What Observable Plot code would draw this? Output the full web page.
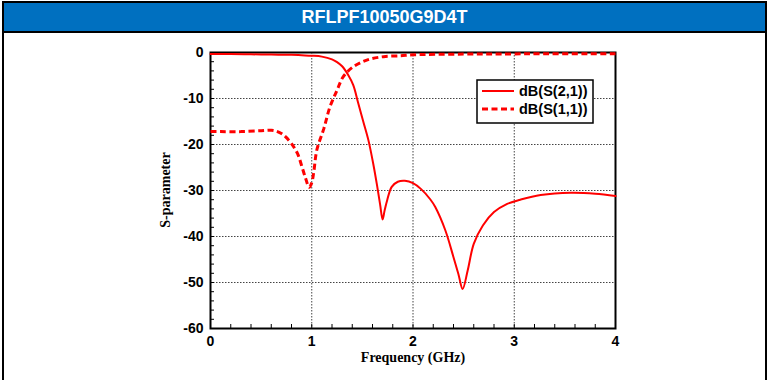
<!DOCTYPE html>
<html><head><meta charset="utf-8">
<script src="https://cdn.jsdelivr.net/npm/d3@7"></script>
<script src="https://cdn.jsdelivr.net/npm/@observablehq/plot@0.6"></script>
<style>
body{margin:0;background:#fff;}
#wrap{position:relative;width:771px;height:380px;overflow:hidden;background:#fff;font-family:"Liberation Sans",Arial,sans-serif;}
#chart{position:absolute;left:0;top:0;}
#chart svg{display:block;}
.bl{position:absolute;background:#000;}
#hdr{position:absolute;left:4px;top:3px;width:761px;height:28px;background:#0070C0;color:#fff;font-weight:bold;font-size:18px;line-height:29px;text-align:center;}
.ttl{position:absolute;font-family:"Liberation Serif","Times New Roman",serif;font-weight:bold;font-size:14px;color:#000;white-space:nowrap;}
#wrap > #legend{position:absolute;left:476px;top:79px;}
</style>
</head><body>
<div id="wrap">
  <div id="chart"></div>
  <div class="bl" style="left:2px;top:1px;width:765px;height:2px;"></div>
  <div id="hdr">RFLPF10050G9D4T</div>
  <div class="bl" style="left:2px;top:31px;width:765px;height:2px;"></div>
  <div class="bl" style="left:2px;top:1px;width:2px;height:379px;"></div>
  <div class="bl" style="left:765px;top:1px;width:2px;height:379px;"></div>
  <div class="ttl" id="ytitle" style="left:166px;top:190px;transform:translate(-50%,-50%) rotate(-90deg);">S-parameter</div>
  <div class="ttl" id="xtitle" style="left:413px;top:350px;transform:translateX(-50%);">Frequency (GHz)</div>
  <svg id="legend" width="120" height="47"></svg>
</div>
<script>
// ---- data ----
const title = "RFLPF10050G9D4T";
const seriesNames = ["dB(S(2,1))", "dB(S(1,1))"];
const xTicks = [0, 1, 2, 3, 4];
const yTicks = [0, -10, -20, -30, -40, -50, -60];

const freqS21 = [0, 0.2, 0.4, 0.6, 0.8, 0.9, 1.0, 1.1, 1.2, 1.25, 1.3, 1.36, 1.41, 1.46, 1.51, 1.56, 1.61, 1.645, 1.675, 1.70, 1.72, 1.745, 1.79, 1.85, 1.92, 2.0, 2.08, 2.17, 2.22, 2.32, 2.40, 2.45, 2.49, 2.54, 2.60, 2.69, 2.80, 2.93, 3.06, 3.26, 3.56, 3.8, 4.0];
const s21dB   = [-0.35, -0.35, -0.4, -0.45, -0.5, -0.6, -0.7, -0.9, -1.5, -2.1, -3.0, -4.9, -7.1, -11.1, -15.1, -19.1, -24.5, -28.9, -33.0, -36.3, -34.3, -32.1, -29.2, -28.1, -27.9, -28.4, -29.7, -31.9, -33.6, -38.7, -44.5, -48.3, -51.4, -47.4, -41.6, -37.6, -34.7, -32.9, -32.0, -31.0, -30.5, -30.7, -31.2];

const freqS11 = [0, 0.1, 0.3, 0.5, 0.6, 0.65, 0.7, 0.74, 0.8, 0.86, 0.9, 0.94, 0.975, 1.0, 1.02, 1.05, 1.12, 1.18, 1.25, 1.31, 1.41, 1.55, 1.71, 1.88, 2.0, 2.5, 3.0, 4.0];
const s11dB   = [-17.2, -17.2, -17.2, -17.0, -16.9, -17.1, -17.6, -18.3, -19.8, -22.0, -24.6, -27.4, -29.3, -28.3, -26.0, -21.2, -16.5, -11.8, -8.2, -5.3, -3.1, -1.6, -0.9, -0.7, -0.5, -0.35, -0.3, -0.25];

const xMinor = d3.range(0, 4.001, 0.2);
const yMinor = d3.range(0, -60.001, -2);

// ---- build ----
const s21 = freqS21.map((f, i) => ({f, db: s21dB[i]}));
const s11 = freqS11.map((f, i) => ({f, db: s11dB[i]}));

const W = 771, H = 380, mL = 210, mR = 156, mT = 52, mB = 52;
const plotW = W - mL - mR, plotH = H - mT - mB;
const red = "#ff0000";
const font = {fontSize: 14, fontWeight: "bold", fontFamily: "'Liberation Sans', Arial, sans-serif"};

const chart = Plot.plot({
  width: W, height: H,
  marginLeft: mL, marginRight: mR, marginTop: mT, marginBottom: mB,
  style: {background: "transparent", overflow: "visible", color: "#000"},
  x: {domain: [0, 4]},
  y: {domain: [-60, 0]},
  marks: [
    Plot.gridX(xTicks.slice(1, -1), {stroke: "#444", strokeOpacity: 1, strokeWidth: 1, strokeDasharray: "1.5,1.5"}),
    Plot.gridY(yTicks.slice(1, -1), {stroke: "#444", strokeOpacity: 1, strokeWidth: 1, strokeDasharray: "1.5,1.5"}),
    Plot.ruleX(xMinor, {x: d => d, stroke: "#000", strokeWidth: 1, insetTop: plotH - 4}),
    Plot.ruleY(yMinor, {y: d => d, stroke: "#000", strokeWidth: 1, insetRight: plotW - 4}),
    Plot.axisX(xTicks, {tickSize: 0, tickPadding: 8, label: null, tickFormat: d => String(d), ...font}),
    Plot.axisY(yTicks, {tickSize: 0, tickPadding: 7, label: null, tickFormat: d => String(d), ...font}),
    Plot.frame({stroke: "#000", strokeWidth: 2}),
    Plot.line(s21, {x: "f", y: "db", stroke: red, strokeWidth: 2, curve: "catmull-rom"}),
    Plot.line(s11, {x: "f", y: "db", stroke: red, strokeWidth: 3, strokeDasharray: "6,3.5", strokeLinecap: "butt", strokeLinejoin: "miter", curve: "catmull-rom"})
  ]
});
document.getElementById("chart").appendChild(chart);
document.getElementById("hdr").textContent = title;

// legend
const lg = d3.select("#legend");
lg.append("rect").attr("x", 1).attr("y", 1).attr("width", 116).attr("height", 43)
  .attr("fill", "#fff").attr("stroke", "#000").attr("stroke-width", 1.5);
seriesNames.forEach((name, i) => {
  const y = 12 + i * 18;
  lg.append("line").attr("x1", 6).attr("x2", 38).attr("y1", y).attr("y2", y)
    .attr("stroke", red).attr("stroke-width", i ? 3 : 2).attr("stroke-dasharray", i ? "6,3.5" : null);
  lg.append("text").attr("x", 43).attr("y", y + 5).text(name)
    .attr("font-family", "'Liberation Sans', Arial, sans-serif").attr("font-weight", "bold").attr("font-size", 14.5).attr("fill", "#000");
});
</script>
</body></html>
